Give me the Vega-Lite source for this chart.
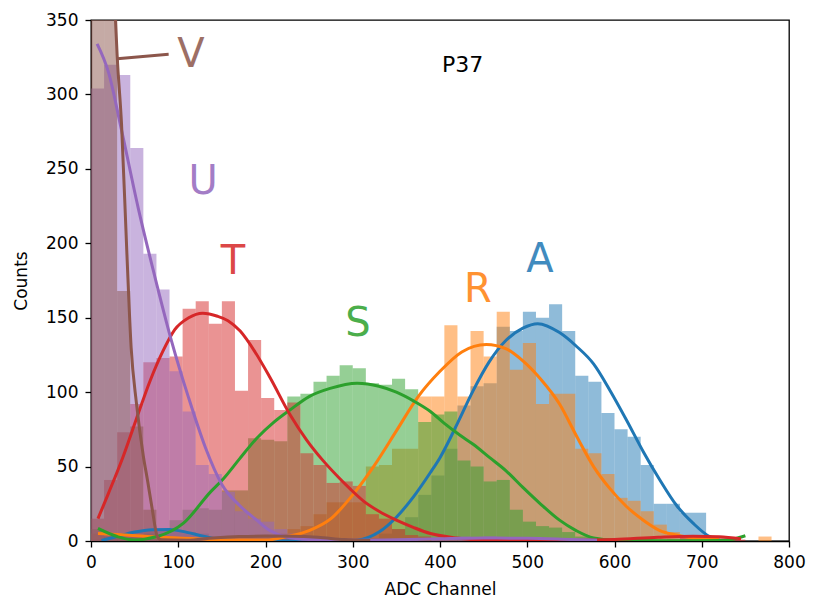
{
"$schema":"https://vega.github.io/schema/vega-lite/v6.json",
"width":698,"height":521,
"autosize":{"type":"none"},
"padding":{"left":91,"top":20,"right":33,"bottom":74},
"background":"white",
"datasets":{
"hist":[
{"s":"A","b0":0,"b1":15,"n":1},{"s":"A","b0":15,"b1":30,"n":3},{"s":"A","b0":30,"b1":45,"n":5},{"s":"A","b0":45,"b1":60,"n":6},{"s":"A","b0":60,"b1":75,"n":7},{"s":"A","b0":75,"b1":90,"n":8},{"s":"A","b0":90,"b1":105,"n":7},{"s":"A","b0":105,"b1":120,"n":6},{"s":"A","b0":120,"b1":135,"n":5},{"s":"A","b0":135,"b1":150,"n":3},{"s":"A","b0":150,"b1":165,"n":2},{"s":"A","b0":165,"b1":180,"n":1},{"s":"A","b0":180,"b1":195,"n":1},{"s":"A","b0":210,"b1":225,"n":1},{"s":"A","b0":255,"b1":270,"n":1},{"s":"A","b0":285,"b1":300,"n":1},{"s":"A","b0":300,"b1":315,"n":1},{"s":"A","b0":315,"b1":330,"n":2},{"s":"A","b0":330,"b1":345,"n":5},{"s":"A","b0":345,"b1":360,"n":8},{"s":"A","b0":360,"b1":375,"n":16},{"s":"A","b0":375,"b1":390,"n":31},{"s":"A","b0":390,"b1":405,"n":44},{"s":"A","b0":405,"b1":420,"n":62},{"s":"A","b0":420,"b1":435,"n":91},{"s":"A","b0":435,"b1":450,"n":104},{"s":"A","b0":450,"b1":465,"n":106},{"s":"A","b0":465,"b1":480,"n":144},{"s":"A","b0":480,"b1":495,"n":141},{"s":"A","b0":495,"b1":510,"n":154},{"s":"A","b0":510,"b1":525,"n":150},{"s":"A","b0":525,"b1":540,"n":159},{"s":"A","b0":540,"b1":555,"n":141},{"s":"A","b0":555,"b1":570,"n":111},{"s":"A","b0":570,"b1":585,"n":107},{"s":"A","b0":585,"b1":600,"n":86},{"s":"A","b0":600,"b1":615,"n":75},{"s":"A","b0":615,"b1":630,"n":70},{"s":"A","b0":630,"b1":645,"n":51},{"s":"A","b0":645,"b1":660,"n":25},{"s":"A","b0":660,"b1":675,"n":25},{"s":"A","b0":675,"b1":690,"n":19},{"s":"A","b0":690,"b1":705,"n":19},{"s":"A","b0":705,"b1":720,"n":3},
{"s":"R","b0":0,"b1":15,"n":5},{"s":"R","b0":15,"b1":30,"n":4},{"s":"R","b0":30,"b1":45,"n":4},{"s":"R","b0":45,"b1":60,"n":3},{"s":"R","b0":60,"b1":75,"n":3},{"s":"R","b0":75,"b1":90,"n":2},{"s":"R","b0":90,"b1":105,"n":2},{"s":"R","b0":105,"b1":120,"n":2},{"s":"R","b0":120,"b1":135,"n":1},{"s":"R","b0":135,"b1":150,"n":2},{"s":"R","b0":150,"b1":165,"n":1},{"s":"R","b0":165,"b1":180,"n":1},{"s":"R","b0":180,"b1":195,"n":1},{"s":"R","b0":195,"b1":210,"n":1},{"s":"R","b0":210,"b1":225,"n":5},{"s":"R","b0":225,"b1":240,"n":8},{"s":"R","b0":240,"b1":255,"n":10},{"s":"R","b0":255,"b1":270,"n":18},{"s":"R","b0":270,"b1":285,"n":26},{"s":"R","b0":285,"b1":300,"n":26},{"s":"R","b0":300,"b1":315,"n":26},{"s":"R","b0":315,"b1":330,"n":50},{"s":"R","b0":330,"b1":345,"n":51},{"s":"R","b0":345,"b1":360,"n":62},{"s":"R","b0":360,"b1":375,"n":62},{"s":"R","b0":375,"b1":390,"n":97},{"s":"R","b0":390,"b1":405,"n":97},{"s":"R","b0":405,"b1":420,"n":145},{"s":"R","b0":420,"b1":435,"n":97},{"s":"R","b0":435,"b1":450,"n":141},{"s":"R","b0":450,"b1":465,"n":124},{"s":"R","b0":465,"b1":480,"n":154},{"s":"R","b0":480,"b1":495,"n":115},{"s":"R","b0":495,"b1":510,"n":133},{"s":"R","b0":510,"b1":525,"n":92},{"s":"R","b0":525,"b1":540,"n":99},{"s":"R","b0":540,"b1":555,"n":99},{"s":"R","b0":555,"b1":570,"n":62},{"s":"R","b0":570,"b1":585,"n":59},{"s":"R","b0":585,"b1":600,"n":45},{"s":"R","b0":600,"b1":615,"n":29},{"s":"R","b0":615,"b1":630,"n":27},{"s":"R","b0":630,"b1":645,"n":20},{"s":"R","b0":645,"b1":660,"n":11},{"s":"R","b0":660,"b1":675,"n":6},{"s":"R","b0":675,"b1":690,"n":3},{"s":"R","b0":690,"b1":705,"n":2},{"s":"R","b0":705,"b1":720,"n":1},{"s":"R","b0":720,"b1":735,"n":1},{"s":"R","b0":765,"b1":780,"n":3},
{"s":"S","b0":0,"b1":15,"n":8},{"s":"S","b0":15,"b1":30,"n":3},{"s":"S","b0":30,"b1":45,"n":2},{"s":"S","b0":45,"b1":60,"n":3},{"s":"S","b0":60,"b1":75,"n":5},{"s":"S","b0":75,"b1":90,"n":8},{"s":"S","b0":90,"b1":105,"n":14},{"s":"S","b0":105,"b1":120,"n":21},{"s":"S","b0":120,"b1":135,"n":22},{"s":"S","b0":135,"b1":150,"n":21},{"s":"S","b0":150,"b1":165,"n":34},{"s":"S","b0":165,"b1":180,"n":34},{"s":"S","b0":180,"b1":195,"n":69},{"s":"S","b0":195,"b1":210,"n":68},{"s":"S","b0":210,"b1":225,"n":67},{"s":"S","b0":225,"b1":240,"n":97},{"s":"S","b0":240,"b1":255,"n":99},{"s":"S","b0":255,"b1":270,"n":107},{"s":"S","b0":270,"b1":285,"n":111},{"s":"S","b0":285,"b1":300,"n":118},{"s":"S","b0":300,"b1":315,"n":116},{"s":"S","b0":315,"b1":330,"n":106},{"s":"S","b0":330,"b1":345,"n":105},{"s":"S","b0":345,"b1":360,"n":109},{"s":"S","b0":360,"b1":375,"n":102},{"s":"S","b0":375,"b1":390,"n":80},{"s":"S","b0":390,"b1":405,"n":85},{"s":"S","b0":405,"b1":420,"n":87},{"s":"S","b0":420,"b1":435,"n":54},{"s":"S","b0":435,"b1":450,"n":50},{"s":"S","b0":450,"b1":465,"n":40},{"s":"S","b0":465,"b1":480,"n":41},{"s":"S","b0":480,"b1":495,"n":21},{"s":"S","b0":495,"b1":510,"n":13},{"s":"S","b0":510,"b1":525,"n":10},{"s":"S","b0":525,"b1":540,"n":9},{"s":"S","b0":540,"b1":555,"n":6},{"s":"S","b0":555,"b1":570,"n":3},{"s":"S","b0":570,"b1":585,"n":2},{"s":"S","b0":585,"b1":600,"n":1},{"s":"S","b0":600,"b1":615,"n":1},{"s":"S","b0":630,"b1":645,"n":1},
{"s":"T","b0":0,"b1":15,"n":15},{"s":"T","b0":15,"b1":30,"n":41},{"s":"T","b0":30,"b1":45,"n":73},{"s":"T","b0":45,"b1":60,"n":92},{"s":"T","b0":60,"b1":75,"n":120},{"s":"T","b0":75,"b1":90,"n":123},{"s":"T","b0":90,"b1":105,"n":124},{"s":"T","b0":105,"b1":120,"n":156},{"s":"T","b0":120,"b1":135,"n":161},{"s":"T","b0":135,"b1":150,"n":146},{"s":"T","b0":150,"b1":165,"n":161},{"s":"T","b0":165,"b1":180,"n":101},{"s":"T","b0":180,"b1":195,"n":135},{"s":"T","b0":195,"b1":210,"n":96},{"s":"T","b0":210,"b1":225,"n":88},{"s":"T","b0":225,"b1":240,"n":93},{"s":"T","b0":240,"b1":255,"n":59},{"s":"T","b0":255,"b1":270,"n":51},{"s":"T","b0":270,"b1":285,"n":39},{"s":"T","b0":285,"b1":300,"n":40},{"s":"T","b0":300,"b1":315,"n":37},{"s":"T","b0":315,"b1":330,"n":18},{"s":"T","b0":330,"b1":345,"n":15},{"s":"T","b0":345,"b1":360,"n":8},{"s":"T","b0":360,"b1":375,"n":4},{"s":"T","b0":375,"b1":390,"n":3},{"s":"T","b0":390,"b1":405,"n":2},{"s":"T","b0":405,"b1":420,"n":1},{"s":"T","b0":420,"b1":435,"n":1},{"s":"T","b0":450,"b1":465,"n":1},{"s":"T","b0":660,"b1":675,"n":1},{"s":"T","b0":675,"b1":690,"n":2},{"s":"T","b0":690,"b1":705,"n":2},{"s":"T","b0":705,"b1":720,"n":3},{"s":"T","b0":720,"b1":735,"n":2},{"s":"T","b0":735,"b1":750,"n":1},
{"s":"U","b0":0,"b1":15,"n":304},{"s":"U","b0":15,"b1":30,"n":320},{"s":"U","b0":30,"b1":45,"n":313},{"s":"U","b0":45,"b1":60,"n":264},{"s":"U","b0":60,"b1":75,"n":193},{"s":"U","b0":75,"b1":90,"n":169},{"s":"U","b0":90,"b1":105,"n":114},{"s":"U","b0":105,"b1":120,"n":87},{"s":"U","b0":120,"b1":135,"n":51},{"s":"U","b0":135,"b1":150,"n":45},{"s":"U","b0":150,"b1":165,"n":33},{"s":"U","b0":165,"b1":180,"n":20},{"s":"U","b0":180,"b1":195,"n":15},{"s":"U","b0":195,"b1":210,"n":13},{"s":"U","b0":210,"b1":225,"n":8},{"s":"U","b0":225,"b1":240,"n":5},{"s":"U","b0":240,"b1":255,"n":3},{"s":"U","b0":255,"b1":270,"n":2},{"s":"U","b0":270,"b1":285,"n":1},{"s":"U","b0":285,"b1":300,"n":1},{"s":"U","b0":315,"b1":330,"n":1},{"s":"U","b0":360,"b1":375,"n":1},{"s":"U","b0":390,"b1":405,"n":2},{"s":"U","b0":405,"b1":420,"n":2},{"s":"U","b0":420,"b1":435,"n":3},{"s":"U","b0":435,"b1":450,"n":2},{"s":"U","b0":450,"b1":465,"n":3},{"s":"U","b0":465,"b1":480,"n":2},{"s":"U","b0":480,"b1":495,"n":2},{"s":"U","b0":495,"b1":510,"n":2},{"s":"U","b0":510,"b1":525,"n":1},{"s":"U","b0":525,"b1":540,"n":1},{"s":"U","b0":540,"b1":555,"n":1},
{"s":"V","b0":0,"b1":15,"n":480},{"s":"V","b0":15,"b1":30,"n":420},{"s":"V","b0":30,"b1":45,"n":168},{"s":"V","b0":45,"b1":60,"n":77},{"s":"V","b0":60,"b1":75,"n":21},{"s":"V","b0":75,"b1":90,"n":3},{"s":"V","b0":90,"b1":105,"n":1},{"s":"V","b0":135,"b1":150,"n":1},{"s":"V","b0":150,"b1":165,"n":2},{"s":"V","b0":165,"b1":180,"n":3},{"s":"V","b0":180,"b1":195,"n":3},{"s":"V","b0":195,"b1":210,"n":4},{"s":"V","b0":210,"b1":225,"n":3},{"s":"V","b0":225,"b1":240,"n":3},{"s":"V","b0":240,"b1":255,"n":3},{"s":"V","b0":255,"b1":270,"n":2},{"s":"V","b0":270,"b1":285,"n":2},{"s":"V","b0":285,"b1":300,"n":1},{"s":"V","b0":300,"b1":315,"n":1}
],
"fit":[
{"s":"A","x":12,"y":0.3},{"s":"A","x":30,"y":3},{"s":"A","x":50,"y":6},{"s":"A","x":70,"y":7.6},{"s":"A","x":90,"y":7.8},{"s":"A","x":110,"y":5.8},{"s":"A","x":130,"y":3},{"s":"A","x":150,"y":0.8},{"s":"A","x":170,"y":0.2},{"s":"A","x":200,"y":0},{"s":"A","x":250,"y":0},{"s":"A","x":290,"y":0},{"s":"A","x":305,"y":0.5},{"s":"A","x":330,"y":6},{"s":"A","x":350,"y":16},{"s":"A","x":370,"y":30},{"s":"A","x":389,"y":46},{"s":"A","x":400,"y":56},{"s":"A","x":420,"y":79},{"s":"A","x":438,"y":101},{"s":"A","x":456,"y":120},{"s":"A","x":476,"y":135},{"s":"A","x":495,"y":143},{"s":"A","x":512,"y":146},{"s":"A","x":537,"y":140},{"s":"A","x":556,"y":131},{"s":"A","x":576,"y":119},{"s":"A","x":595,"y":101},{"s":"A","x":614,"y":81},{"s":"A","x":633,"y":60},{"s":"A","x":652,"y":41},{"s":"A","x":671,"y":24},{"s":"A","x":690,"y":12},{"s":"A","x":709,"y":3},{"s":"A","x":720,"y":1},
{"s":"R","x":8,"y":5},{"s":"R","x":40,"y":4},{"s":"R","x":80,"y":2.5},{"s":"R","x":120,"y":1.5},{"s":"R","x":160,"y":0.7},{"s":"R","x":200,"y":0.6},{"s":"R","x":225,"y":3},{"s":"R","x":250,"y":7},{"s":"R","x":275,"y":15},{"s":"R","x":300,"y":31},{"s":"R","x":325,"y":51},{"s":"R","x":350,"y":74},{"s":"R","x":375,"y":97},{"s":"R","x":400,"y":114},{"s":"R","x":425,"y":127},{"s":"R","x":453,"y":132},{"s":"R","x":476,"y":129},{"s":"R","x":495,"y":121},{"s":"R","x":515,"y":109},{"s":"R","x":537,"y":92},{"s":"R","x":556,"y":71},{"s":"R","x":576,"y":50},{"s":"R","x":595,"y":35},{"s":"R","x":614,"y":23},{"s":"R","x":633,"y":14},{"s":"R","x":652,"y":7},{"s":"R","x":671,"y":4},{"s":"R","x":690,"y":2},{"s":"R","x":720,"y":1},
{"s":"S","x":8,"y":8.5},{"s":"S","x":30,"y":3},{"s":"S","x":49,"y":0.7},{"s":"S","x":76,"y":3},{"s":"S","x":106,"y":12},{"s":"S","x":137,"y":33},{"s":"S","x":152,"y":42},{"s":"S","x":170,"y":55},{"s":"S","x":190,"y":69},{"s":"S","x":210,"y":80},{"s":"S","x":228,"y":88},{"s":"S","x":250,"y":97},{"s":"S","x":274,"y":102.5},{"s":"S","x":305,"y":106},{"s":"S","x":330,"y":104},{"s":"S","x":350,"y":100},{"s":"S","x":370,"y":94},{"s":"S","x":389,"y":87},{"s":"S","x":405,"y":79},{"s":"S","x":423,"y":71},{"s":"S","x":438,"y":65},{"s":"S","x":457,"y":56},{"s":"S","x":476,"y":47},{"s":"S","x":495,"y":36},{"s":"S","x":515,"y":25},{"s":"S","x":537,"y":14},{"s":"S","x":556,"y":7},{"s":"S","x":576,"y":2},{"s":"S","x":600,"y":0.5},{"s":"S","x":650,"y":0.2},{"s":"S","x":720,"y":0.3},{"s":"S","x":738,"y":1.5},{"s":"S","x":750,"y":3.5},
{"s":"T","x":8,"y":15},{"s":"T","x":20,"y":32},{"s":"T","x":37,"y":57},{"s":"T","x":52,"y":82},{"s":"T","x":68,"y":108},{"s":"T","x":82,"y":127},{"s":"T","x":96,"y":142},{"s":"T","x":112,"y":150},{"s":"T","x":128,"y":153},{"s":"T","x":145,"y":151},{"s":"T","x":157,"y":148},{"s":"T","x":171,"y":141},{"s":"T","x":188,"y":127},{"s":"T","x":205,"y":110},{"s":"T","x":228,"y":85},{"s":"T","x":247,"y":68},{"s":"T","x":266,"y":54},{"s":"T","x":285,"y":42},{"s":"T","x":297,"y":35},{"s":"T","x":312,"y":27},{"s":"T","x":330,"y":20},{"s":"T","x":350,"y":14},{"s":"T","x":370,"y":9},{"s":"T","x":389,"y":5},{"s":"T","x":419,"y":2},{"s":"T","x":450,"y":0.6},{"s":"T","x":500,"y":0.3},{"s":"T","x":550,"y":0.4},{"s":"T","x":600,"y":1},{"s":"T","x":650,"y":2.5},{"s":"T","x":690,"y":3.2},{"s":"T","x":720,"y":2.8},{"s":"T","x":745,"y":1.5},
{"s":"U","x":7,"y":334},{"s":"U","x":20,"y":315},{"s":"U","x":35,"y":276},{"s":"U","x":54,"y":224},{"s":"U","x":73,"y":178},{"s":"U","x":92,"y":135},{"s":"U","x":112,"y":96},{"s":"U","x":131,"y":63},{"s":"U","x":150,"y":38},{"s":"U","x":170,"y":24},{"s":"U","x":190,"y":14},{"s":"U","x":205,"y":7},{"s":"U","x":222,"y":3},{"s":"U","x":250,"y":1},{"s":"U","x":300,"y":0.5},{"s":"U","x":350,"y":0.8},{"s":"U","x":400,"y":1.5},{"s":"U","x":450,"y":2},{"s":"U","x":500,"y":1.8},{"s":"U","x":550,"y":1},{"s":"U","x":580,"y":0.5},
{"s":"V","x":26,"y":375},{"s":"V","x":28,"y":351},{"s":"V","x":30,"y":326},{"s":"V","x":35,"y":280},{"s":"V","x":41,"y":195},{"s":"V","x":46,"y":130},{"s":"V","x":52,"y":93},{"s":"V","x":60,"y":57},{"s":"V","x":65,"y":40},{"s":"V","x":70,"y":22},{"s":"V","x":76,"y":3},{"s":"V","x":80,"y":0.8},{"s":"V","x":110,"y":0.5},{"s":"V","x":140,"y":2},{"s":"V","x":170,"y":3},{"s":"V","x":200,"y":3.3},{"s":"V","x":230,"y":3.2},{"s":"V","x":260,"y":2.5},{"s":"V","x":290,"y":1},{"s":"V","x":320,"y":0.3}
],
"conn":[{"s":"V","x":30,"y":324},{"s":"V","x":89,"y":327}],
"labels":[
{"s":"A","x":514.6,"y":189},{"s":"R","x":443.4,"y":168.6},{"s":"S","x":305.9,"y":145.7},{"s":"T","x":162.8,"y":187.3},{"s":"U","x":128.4,"y":241.1},{"s":"V","x":114.4,"y":326.7}
],
"title":[{"t":"P37","x":426,"y":319.5}]
},
"layer":[
{"data":{"name":"hist"},
"mark":{"type":"rect","opacity":0.5,"clip":true},
"encoding":{
"x":{"field":"b0","type":"quantitative","title":"ADC Channel","scale":{"domain":[0,800],"nice":false,"zero":false},
"axis":{"values":[0,100,200,300,400,500,600,700,800],"labelFlush":false,"labelPadding":7,"titlePadding":11}},
"x2":{"field":"b1"},
"y":{"field":"n","type":"quantitative","title":"Counts","scale":{"domain":[0,350],"nice":false},
"axis":{"values":[0,50,100,150,200,250,300,350],"labelPadding":7,"titlePadding":15}},
"y2":{"datum":0},
"color":{"field":"s","type":"nominal","legend":null,"scale":{"domain":["A","R","S","T","U","V"],"range":["#1f77b4","#ff7f0e","#2ca02c","#d62728","#9467bd","#8c564b"]}}
}},
{"data":{"name":"fit"},
"mark":{"type":"line","strokeWidth":3,"clip":true,"interpolate":"monotone"},
"encoding":{
"x":{"field":"x","type":"quantitative","title":"ADC Channel"},
"y":{"field":"y","type":"quantitative","title":"Counts"},
"color":{"field":"s","type":"nominal","legend":null}
}},
{"data":{"name":"conn"},
"mark":{"type":"line","strokeWidth":3,"clip":true},
"encoding":{
"x":{"field":"x","type":"quantitative","title":"ADC Channel"},
"y":{"field":"y","type":"quantitative","title":"Counts"},
"color":{"field":"s","type":"nominal","legend":null}
}},
{"data":{"name":"labels"},
"mark":{"type":"text","fontSize":40,"align":"center","baseline":"middle","font":"DejaVu Sans","opacity":0.85},
"encoding":{
"x":{"field":"x","type":"quantitative","title":"ADC Channel"},
"y":{"field":"y","type":"quantitative","title":"Counts"},
"text":{"field":"s"},
"color":{"field":"s","type":"nominal","legend":null}
}},
{"data":{"name":"title"},
"mark":{"type":"text","fontSize":22,"align":"center","baseline":"middle","font":"DejaVu Sans","color":"black"},
"encoding":{
"x":{"field":"x","type":"quantitative","title":"ADC Channel"},
"y":{"field":"y","type":"quantitative","title":"Counts"},
"text":{"field":"t"}
}}
],
"config":{
"font":"DejaVu Sans",
"view":{"stroke":"black","strokeWidth":1.3},
"axis":{"grid":false,"labelFontSize":17,"titleFontSize":17,"titleFontWeight":"normal","labelColor":"black","titleColor":"black","domainColor":"black","tickColor":"black","tickSize":6,"tickWidth":1.3,"domainWidth":1.3,"labelFont":"DejaVu Sans","titleFont":"DejaVu Sans"}
}
}
